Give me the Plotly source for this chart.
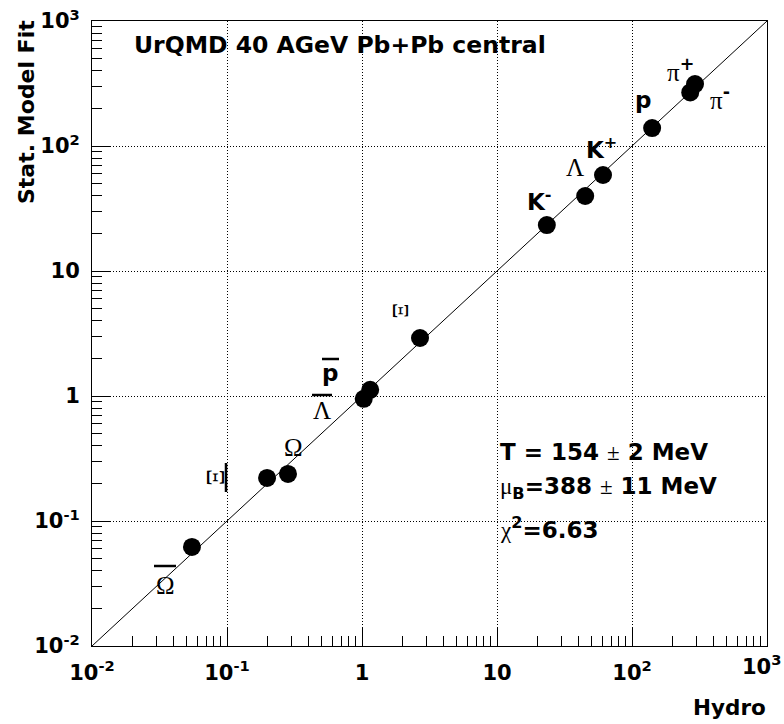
import plotly.graph_objects as go

# ---- data ----
particles = ["pi+", "pi-", "p", "K+", "Lambda", "K-", "Xi", "pbar", "Lambdabar", "Omega", "Xibar", "Omegabar"]
hydro = [293, 270, 141, 61, 45, 23.4, 2.69, 1.15, 1.03, 0.283, 0.198, 0.055]
stat_fit = [313, 268, 139, 58.6, 39.8, 23.3, 2.91, 1.12, 0.95, 0.238, 0.221, 0.062]
diag = [0.01, 1000]
decades = [0.01, 0.1, 1, 10, 100, 1000]
decade_labels = ["10<sup>-2</sup>", "10<sup>-1</sup>", "1", "10", "10<sup>2</sup>", "10<sup>3</sup>"]
minor_vals = [m * d for d in decades[:-1] for m in range(2, 10)]

W, H = 784, 724
L, R, T, B = 92, 17, 21, 78
PW, PH = W - L - R, H - T - B


def px(xp, yp):
    return (xp - L) / PW, (H - B - yp) / PH


fig = go.Figure()
fig.add_trace(go.Scatter(x=diag, y=diag, mode="lines",
                         line=dict(color="black", width=1), hoverinfo="skip", showlegend=False))
fig.add_trace(go.Scatter(x=hydro, y=stat_fit, mode="markers", text=particles,
                         marker=dict(color="black", size=18, line=dict(width=0)), showlegend=False))

SANS = "DejaVu Sans, Liberation Sans, Arial, sans-serif"
SERIF = "Liberation Serif, Times New Roman, serif"
TICKFONT = dict(family=SANS, size=21, color="black", weight="bold")

axis_common = dict(
    type="log", range=[-2, 3], tickvals=decades,
    ticks="inside", ticklen=19, tickwidth=1, tickcolor="black",
    showline=True, linecolor="black", linewidth=1, mirror=True,
    showgrid=True, gridcolor="black", griddash="1px,2px", gridwidth=1,
    zeroline=False, ticklabeloverflow="allow", automargin=False,
    tickfont=TICKFONT,
    minor=dict(tickvals=minor_vals, ticks="inside", ticklen=10, tickcolor="black", showgrid=False),
)
# last x label is drawn separately so it stays inside the page, like the reference
fig.update_xaxes(**axis_common, ticktext=decade_labels[:-1] + [""], ticklabelstandoff=8)
fig.update_yaxes(**axis_common, ticktext=decade_labels, ticklabelstandoff=7)


def ann(xp, yp, text, size=22, family=SANS, bold=True, angle=0, xanchor="center", yanchor="middle"):
    xx, yy = px(xp, yp)
    fig.add_annotation(x=xx, y=yy, xref="paper", yref="paper", text=text, showarrow=False,
                       xanchor=xanchor, yanchor=yanchor, textangle=angle,
                       font=dict(family=family, size=size, color="black",
                                 weight="bold" if bold else "normal"))


def bar(x0, y0, x1, y1, w=2.5):
    a, b = px(x0, y0)
    c, d = px(x1, y1)
    fig.add_shape(type="line", xref="paper", yref="paper", x0=a, y0=b, x1=c, y1=d,
                  line=dict(color="black", width=w))


ann(783, 665, decade_labels[-1], size=21, xanchor="right")

# title & axis titles
ann(132, 45, "UrQMD 40 AGeV Pb+Pb central", size=23.5, xanchor="left")
xx, yy = px(26, 18)
fig.add_annotation(x=xx, y=yy, xref="paper", yref="paper", text="Stat. Model Fit", showarrow=False,
                   xanchor="center", yanchor="top", textangle=-90,
                   font=dict(family=SANS, size=22, color="black", weight="bold"))
ann(768, 707, "Hydro", size=21.5, xanchor="right")

SUP_SANS = "<sup><b style='font-family:DejaVu Sans'>%s</b></sup>"
# particle labels
ann(680, 70, "π" + SUP_SANS % "+", size=25, family=SERIF, bold=False)
ann(720, 98, "π" + SUP_SANS % "-", size=25, family=SERIF, bold=False)
ann(643, 100, "p", size=23)
ann(601, 148, "K<sup>+</sup>", size=23)
ann(575, 168, "Λ", size=25, family=SERIF, bold=False)
ann(539, 200, "K<sup>-</sup>", size=23)
ann(401, 310, "Ξ", size=24, family=SERIF, bold=False, angle=90)
ann(330, 373, "p", size=23)
bar(322, 359, 339, 359)
ann(322, 410, "Λ", size=25, family=SERIF, bold=False)
bar(312, 395, 332, 395)
ann(293, 447, "Ω", size=25, family=SERIF, bold=False)
ann(216, 477, "Ξ", size=26, family=SERIF, bold=False, angle=90)
bar(226, 463, 226, 492)
ann(165, 585, "Ω", size=25, family=SERIF, bold=False)
bar(154, 566, 176, 566)

# fit results
PM = "<span style='font-family:Liberation Serif;font-weight:normal'>±</span>"
ann(498, 452, "T = 154 " + PM + " 2 MeV", size=23, xanchor="left")
ann(498, 488, "<span style='font-family:Liberation Serif;font-weight:normal'>μ</span><sub>B</sub>=388 " + PM + " 11 MeV",
    size=23, xanchor="left")
ann(498, 528, "<span style='font-family:Liberation Serif;font-weight:normal'>χ</span><sup>2</sup>=6.63",
    size=23, xanchor="left")

fig.update_layout(
    width=W, height=H, autosize=False,
    margin=dict(l=L, r=R, t=T, b=B),
    paper_bgcolor="white", plot_bgcolor="white",
    showlegend=False,
)

fig.write_html("out.html")
